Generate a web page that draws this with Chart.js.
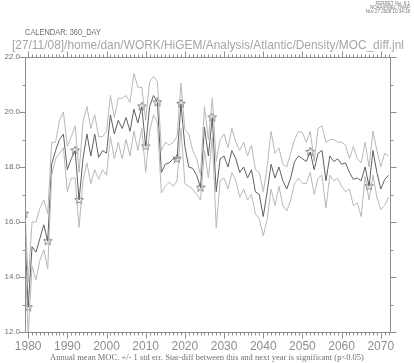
<!DOCTYPE html>
<html>
<head>
<meta charset="utf-8">
<script src="https://cdn.jsdelivr.net/npm/chart.js@4.4.0/dist/chart.umd.min.js"></script>
<style>
html, body { margin: 0; padding: 0; background: #fff; }
canvas { display: block; }
</style>
</head>
<body>
<canvas id="myChart" width="414" height="363"></canvas>
<script>
const ctx = document.getElementById('myChart');

// years 1979..2072, one value per year
const firstYear = 1979;
const lastYear = 2072;
const yTickLabels = [12, 14, 16, 18, 20, 22];
const xTickLabels = [1980, 1990, 2000, 2010, 2020, 2030, 2040, 2050, 2060, 2070];

const mocMean = [
    16.3, 12.9, 15.1, 14.9, 15.4, 15.9, 15.3, 18.1, 18.6, 19.0,
    19.2, 17.9, 18.3, 18.6, 16.8, 18.3, 19.2, 18.4, 19.2, 18.35,
    18.6, 18.5, 19.9, 19.2, 19.7, 19.4, 19.8, 19.3, 20.1, 19.6,
    20.2, 18.75, 20.2, 20.6, 20.35, 17.8, 18.1, 18.15, 18.3, 18.3,
    20.3, 18.75, 18.0, 17.95, 17.7, 17.25, 19.45, 18.4, 19.8, 17.1,
    18.3, 18.4, 18.0, 18.6, 18.3, 17.8, 18.0, 17.6, 17.9, 17.1,
    17.0, 16.2, 17.1, 18.1, 17.6, 18.0, 17.5, 17.2, 17.6, 18.2,
    18.4, 18.3, 18.2, 18.55, 17.9, 18.5, 18.6, 17.5, 18.4, 18.2,
    18.3, 18.1, 18.15, 17.8, 17.55, 17.6, 17.5, 18.0, 17.3, 18.6,
    17.8, 17.2, 17.55, 17.7
];
const mocUpper = [
    17.2, 13.8, 16.0, 16.0, 16.5, 16.8, 16.3, 18.9, 18.9, 19.7,
    20.0, 18.75, 19.1, 19.5, 17.8, 19.65, 20.2, 19.4, 19.9, 19.1,
    19.1, 19.3, 20.6, 19.8, 20.5, 20.5, 20.6, 20.35, 21.4, 20.9,
    20.9, 19.7, 21.1, 21.3, 21.1, 18.6, 18.9, 18.8, 18.9, 19.1,
    21.05, 19.35, 19.2, 18.6, 18.3, 17.7, 20.2, 19.0, 20.5, 18.2,
    19.0, 19.2, 18.7, 19.4, 18.9, 18.6, 18.9, 18.4, 18.8, 17.9,
    17.8, 17.1, 18.0, 19.3, 18.5, 18.7, 18.1, 18.0, 18.5, 19.0,
    19.3, 19.25, 18.9, 19.3, 18.2, 19.4, 19.5, 18.9, 19.0, 19.0,
    18.9, 18.9, 18.8, 18.3, 18.75, 18.3, 18.15, 18.9, 18.0, 19.3,
    18.6, 18.0, 18.5, 18.4
];
const mocLower = [
    15.5, 11.9, 14.4, 13.9, 14.6, 15.0, 14.3, 17.7, 18.3, 18.5,
    18.7, 17.1, 17.6, 17.6, 15.8, 17.5, 18.15, 17.4, 17.9, 17.55,
    17.9, 17.7, 19.1, 18.3, 18.9, 18.3, 19.0, 18.4, 19.3, 18.6,
    19.4, 17.8, 19.3, 19.9, 19.6, 17.05, 17.3, 17.45, 17.3, 17.5,
    19.4, 17.4, 17.3, 17.2, 17.0, 16.8, 18.6, 17.6, 19.1, 15.8,
    17.5, 17.6, 17.2, 17.8, 17.5, 16.9, 17.2, 16.8, 17.0, 16.3,
    16.1, 15.5, 16.1, 17.2, 16.6, 17.3, 16.6, 16.4, 16.8, 17.4,
    17.6, 17.4, 17.4, 17.8, 17.0, 17.6, 17.7, 16.5, 17.7, 17.5,
    17.6, 17.3, 17.1, 17.2, 16.6, 16.7, 16.2, 17.65, 16.8, 17.7,
    16.9, 16.45, 16.6, 16.9
];
// years where the diff to the next year is significant
const starYears = [1979, 1980, 1985, 1992, 1993, 2009, 2010, 2013, 2018, 2019, 2024, 2027, 2052, 2067];

const years = [];
for (let y = firstYear; y <= lastYear; y++) years.push(y);

function toPoints(values){
    return years.map((yr, i) => ({x: yr, y: values[i]}));
}

// outline five point star used as the marker
function makeStar(size){
    const c = document.createElement('canvas');
    c.width = size; c.height = size;
    const g = c.getContext('2d');
    const cx = size / 2, cy = size / 2, ro = size / 2 - 0.5, ri = ro * 0.45;
    g.beginPath();
    for (let k = 0; k < 10; k++) {
        const r = k % 2 === 0 ? ro : ri;
        const a = -Math.PI / 2 + k * Math.PI / 5;
        const px = cx + r * Math.cos(a), py = cy + r * Math.sin(a);
        if (k === 0) g.moveTo(px, py); else g.lineTo(px, py);
    }
    g.closePath();
    g.strokeStyle = '#707070';
    g.lineWidth = 0.9;
    g.stroke();
    return c;
}
const starMark = makeStar(10);

const frame = {
    id: 'frame',
    afterDraw(chart){
        const c = chart.ctx;
        const xs = chart.scales.x, ys = chart.scales.y;
        const {left, right, top, bottom} = chart.chartArea;
        c.save();
        c.strokeStyle = '#8e8e8e';
        c.lineWidth = 1;
        c.strokeRect(left + 0.5, top + 0.5, right - left, bottom - top);
        c.beginPath();
        for (let yr = Math.ceil(xs.min); yr <= xs.max; yr++) {
            const px = Math.round(xs.getPixelForValue(yr)) + 0.5;
            const len = yr % 10 === 0 ? 6 : 3;
            c.moveTo(px, bottom + 0.5); c.lineTo(px, bottom + 0.5 + len);
            c.moveTo(px, top + 0.5); c.lineTo(px, top + 0.5 - len);
        }
        for (let v = ys.min; v <= ys.max; v++) {
            const py = Math.round(ys.getPixelForValue(v)) + 0.5;
            const len = v % 2 === 0 ? 6 : 3;
            c.moveTo(left + 0.5, py); c.lineTo(left + 0.5 - len, py);
            c.moveTo(right + 0.5, py); c.lineTo(right + 0.5 + len, py);
        }
        c.stroke();

        // header and caption text
        c.fillStyle = '#777';
        c.textAlign = 'right';
        c.textBaseline = 'middle';
        c.font = '4.5px "Liberation Sans"';
        c.fillText('FERRET Ver. 6.1', 410, 3.5);
        c.fillText('NOAA/PMEL TMAP', 410, 7.5);
        c.fillText('Nov 27 2008 10:34:18', 410, 11.5);

        c.textAlign = 'left';
        c.fillStyle = '#6e6e6e';
        c.font = '9px "Liberation Sans"';
        c.fillText('CALENDAR: 360_DAY', 25, 33, 76);

        c.fillStyle = '#a6a6a6';
        c.font = '13px "Liberation Sans"';
        c.fillText('[27/11/08]/home/dan/WORK/HiGEM/Analysis/Atlantic/Density/MOC_diff.jnl', 12, 45, 392);

        c.fillStyle = '#707070';
        c.font = '8.5px "Liberation Serif"';
        c.textAlign = 'center';
        c.fillText('Annual mean MOC. +/- 1 std err. Star-diff between this and next year is significant (p<0.05)', 207, 358, 344);
        c.restore();
    }
};

Chart.defaults.font.family = '"Liberation Sans", sans-serif';

const myChart = new Chart(ctx, {
    type: 'line',
    data: {
        datasets: [
            {
                label: 'upper',
                data: toPoints(mocUpper),
                borderColor: '#b8b8b8',
                borderWidth: 1,
                pointRadius: 0,
                tension: 0
            },
            {
                label: 'lower',
                data: toPoints(mocLower),
                borderColor: '#b8b8b8',
                borderWidth: 1,
                pointRadius: 0,
                tension: 0
            },
            {
                label: 'mean',
                data: toPoints(mocMean),
                borderColor: '#606060',
                borderWidth: 1,
                pointRadius: 0,
                tension: 0
            },
            {
                label: 'significant',
                data: starYears.map(yr => ({x: yr, y: mocMean[yr - firstYear]})),
                showLine: false,
                pointStyle: starMark,
                pointRadius: 4
            }
        ]
    },
    options: {
        responsive: false,
        animation: false,
        events: [],
        layout: {padding: {top: 57, right: 24, left: 0, bottom: 0}},
        plugins: {legend: {display: false}, tooltip: {enabled: false}},
        scales: {
            x: {
                type: 'linear',
                min: 1979.2,
                max: 2072.35,
                afterFit: s => { s.height = 31; },
                afterBuildTicks: s => { s.ticks = xTickLabels.map(v => ({value: v})); },
                grid: {display: false, drawTicks: false},
                border: {display: false},
                ticks: {
                    padding: 7,
                    color: '#8e8e8e',
                    font: {size: 12},
                    maxRotation: 0,
                    autoSkip: false,
                    callback: v => String(v)
                }
            },
            y: {
                min: 12,
                max: 22,
                afterFit: s => { s.width = 25; },
                afterBuildTicks: s => { s.ticks = yTickLabels.map(v => ({value: v})); },
                grid: {display: false, drawTicks: false},
                border: {display: false},
                ticks: {
                    padding: 5,
                    color: '#707070',
                    font: {size: 8},
                    callback: v => Number(v).toFixed(1)
                }
            }
        }
    },
    plugins: [frame]
});
</script>
</body>
</html>
